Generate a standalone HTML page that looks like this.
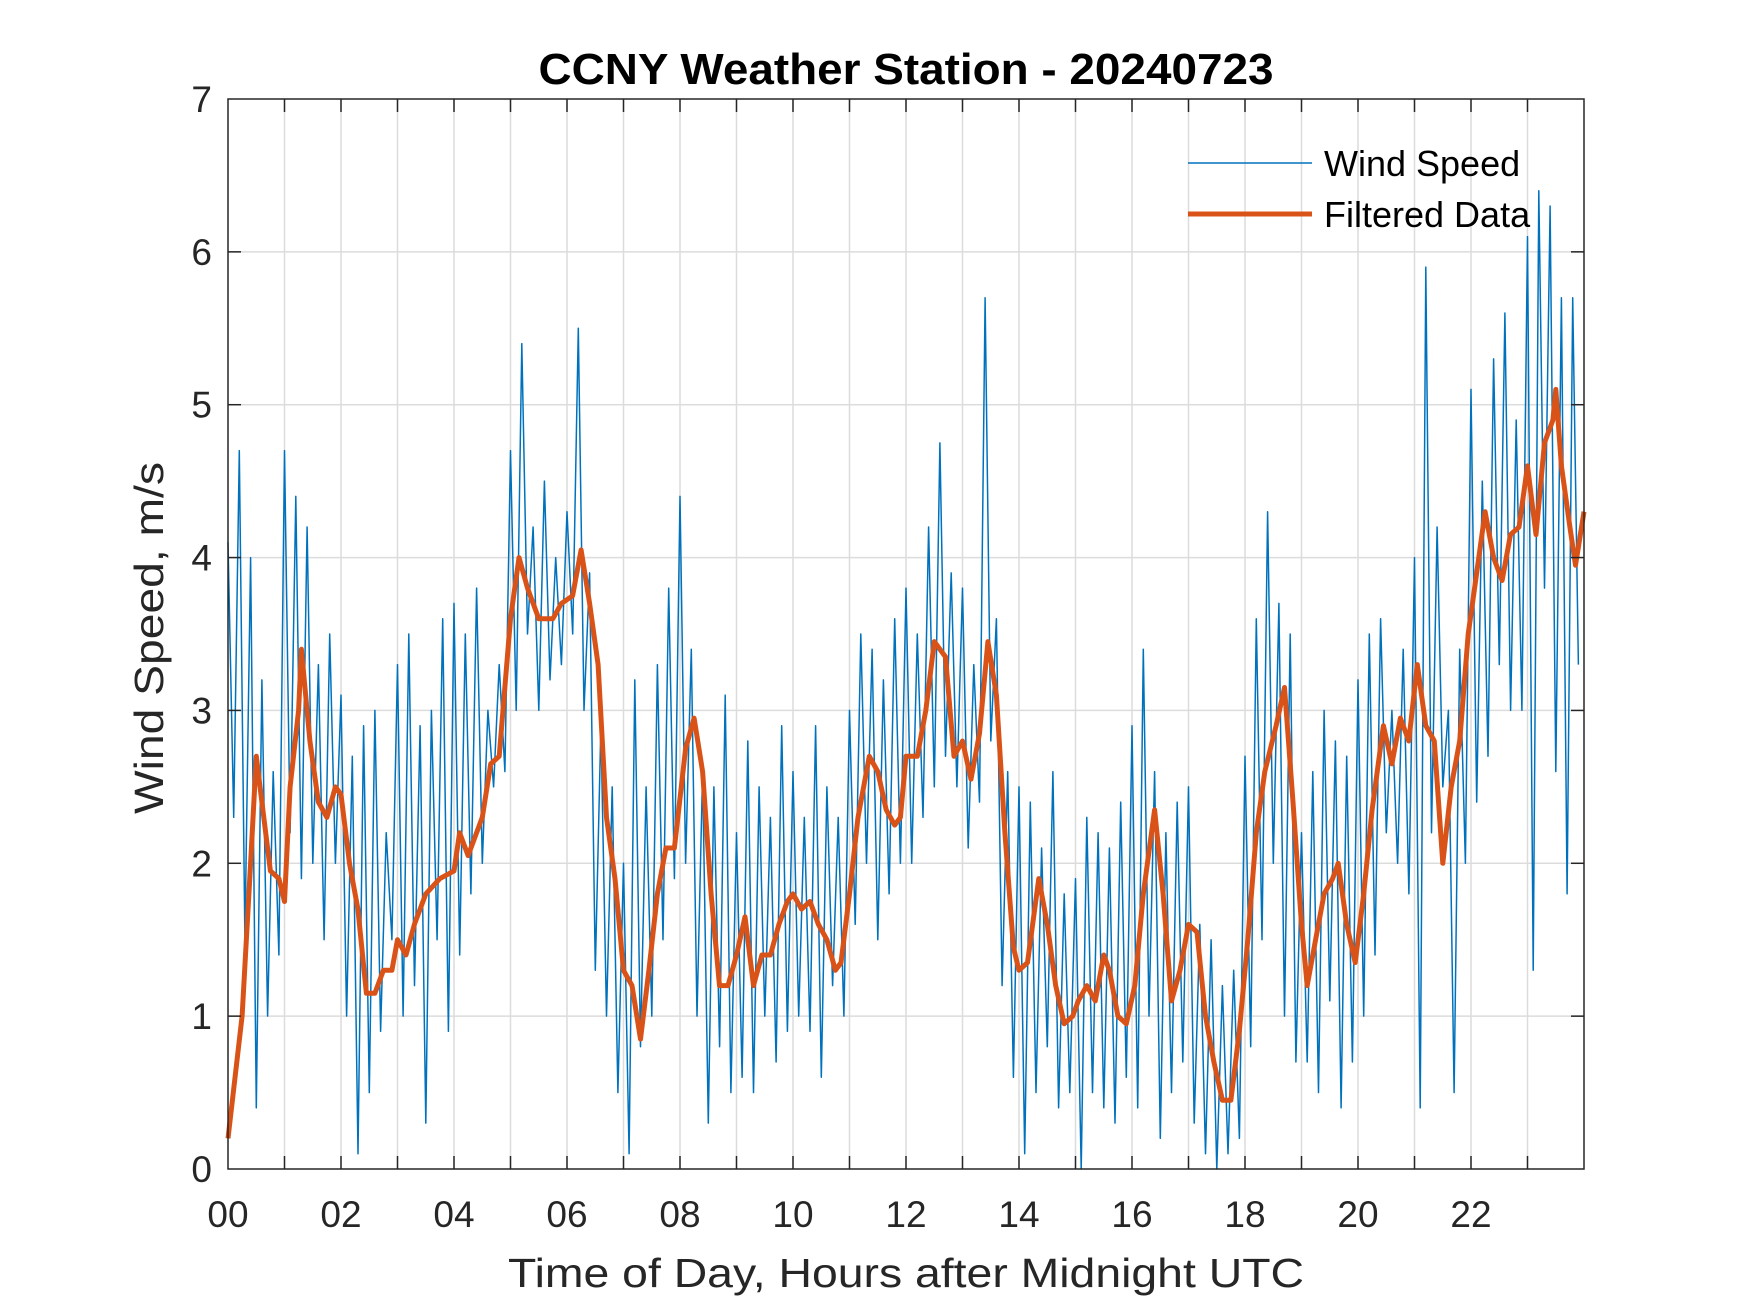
<!DOCTYPE html>
<html><head><meta charset="utf-8"><style>
html,body{margin:0;padding:0;background:#fff;}
svg{display:block;font-family:"Liberation Sans",Arial,sans-serif;}
</style></head><body>
<svg id="chart" width="1750" height="1313" viewBox="0 0 1750 1313" xmlns="http://www.w3.org/2000/svg">
<rect x="0" y="0" width="1750" height="1313" fill="#fff"/>
<g id="grid"></g>
<g id="series"></g>
<rect x="228" y="99" width="1356" height="1070" fill="none" stroke="#262626" stroke-width="1.5"/>
<g id="ticks"></g>
<text x="906" y="84" text-anchor="middle" font-weight="bold" font-size="44" fill="#000" textLength="735" lengthAdjust="spacingAndGlyphs">CCNY Weather Station - 20240723</text>
<text x="906" y="1287" text-anchor="middle" font-size="41" fill="#262626" textLength="796" lengthAdjust="spacingAndGlyphs">Time of Day, Hours after Midnight UTC</text>
<text transform="translate(163,638) rotate(-90)" text-anchor="middle" font-size="41" fill="#262626" textLength="352" lengthAdjust="spacingAndGlyphs">Wind Speed, m/s</text>
<g>
<line x1="1188" y1="163" x2="1312" y2="163" stroke="#0072BD" stroke-width="1.5"/>
<text x="1324" y="176" font-size="36" fill="#000">Wind Speed</text>
<line x1="1188" y1="214" x2="1312" y2="214" stroke="#D95319" stroke-width="5"/>
<text x="1324" y="227" font-size="36" fill="#000">Filtered Data</text>
</g>
</svg>
<script>
const windSpeed = [
4.1,2.3,4.7,1.5,4.0,0.4,3.2,1.0,2.6,1.4,
4.7,2.2,4.4,1.9,4.2,2.0,3.3,1.5,3.5,2.0,
3.1,1.0,2.7,0.1,2.9,0.5,3.0,0.9,2.2,1.5,
3.3,1.0,3.5,1.2,2.9,0.3,3.0,1.5,3.6,0.9,
3.7,1.4,3.5,1.8,3.8,2.0,3.0,2.5,3.3,2.6,
4.7,3.0,5.4,3.5,4.2,3.0,4.5,3.2,4.0,3.3,
4.3,3.5,5.5,3.0,3.9,1.3,2.9,1.0,2.5,0.5,
2.0,0.1,3.2,0.8,2.5,1.0,3.3,1.5,3.8,1.9,
4.4,2.0,3.4,1.0,2.6,0.3,2.5,0.8,3.1,0.5,
2.2,0.6,2.8,0.5,2.5,1.0,2.3,0.7,2.9,0.9,
2.6,1.0,2.3,0.9,2.9,0.6,2.5,1.2,2.3,1.0,
3.0,1.6,3.5,2.0,3.4,1.5,3.2,1.8,3.6,2.0,
3.8,2.0,3.5,2.3,4.2,2.5,4.75,2.7,3.9,2.5,
3.8,2.1,3.3,2.4,5.7,2.8,3.6,1.2,2.6,0.6,
2.5,0.1,2.4,0.5,2.1,0.8,2.6,0.4,1.8,0.5,
1.9,0.0,2.3,0.5,2.2,0.4,2.1,0.3,2.4,0.6,
2.9,0.4,3.4,1.0,2.6,0.2,2.2,0.5,2.4,0.7,
2.5,0.3,1.6,0.1,1.5,0.0,1.2,0.1,1.3,0.2,
2.7,0.8,3.6,1.5,4.3,2.0,3.7,1.0,3.5,0.7,
2.2,0.7,2.6,0.5,3.0,1.1,2.8,0.4,2.7,0.7,
3.2,1.0,3.5,1.4,3.6,2.2,3.0,2.0,3.4,1.8,
4.0,0.4,5.9,2.2,4.2,2.5,3.0,0.5,3.4,2.0,
5.1,2.4,4.5,2.7,5.3,3.3,5.6,3.0,4.9,3.0,
6.1,1.3,6.4,3.8,6.3,2.6,5.7,1.8,5.7,3.3
];
const filtHours = [0,0.25,0.4,0.5,0.6,0.75,0.9,1.0,1.1,1.25,1.3,1.45,1.6,1.75,1.9,2.0,2.15,2.3,2.45,2.6,2.75,2.9,3.0,3.15,3.3,3.5,3.75,4.0,4.1,4.25,4.5,4.65,4.8,5.0,5.15,5.3,5.5,5.75,5.9,6.1,6.25,6.4,6.55,6.7,6.85,7.0,7.15,7.3,7.45,7.6,7.75,7.9,8.1,8.25,8.4,8.55,8.7,8.85,9.0,9.15,9.3,9.45,9.6,9.75,9.9,10.0,10.15,10.3,10.45,10.6,10.75,10.85,11.0,11.15,11.35,11.5,11.65,11.8,11.9,12.0,12.2,12.35,12.5,12.7,12.85,13.0,13.15,13.3,13.45,13.6,13.75,13.9,14.0,14.15,14.35,14.5,14.65,14.8,14.95,15.05,15.2,15.35,15.5,15.6,15.75,15.9,16.05,16.2,16.4,16.55,16.7,16.85,17.0,17.15,17.3,17.45,17.6,17.75,17.9,18.05,18.2,18.35,18.55,18.7,18.85,19.0,19.1,19.25,19.4,19.55,19.65,19.8,19.95,20.1,20.25,20.45,20.6,20.75,20.9,21.05,21.2,21.35,21.5,21.65,21.8,21.95,22.1,22.25,22.4,22.55,22.7,22.85,23.0,23.15,23.3,23.45,23.5,23.6,23.75,23.85,24.0];
const filtValues = [0.2,1.0,2.0,2.7,2.4,1.95,1.9,1.75,2.5,3.0,3.4,2.8,2.4,2.3,2.5,2.45,2.0,1.7,1.15,1.15,1.3,1.3,1.5,1.4,1.6,1.8,1.9,1.95,2.2,2.05,2.3,2.65,2.7,3.6,4.0,3.8,3.6,3.6,3.7,3.75,4.05,3.7,3.3,2.3,1.9,1.3,1.2,0.85,1.3,1.8,2.1,2.1,2.75,2.95,2.6,1.8,1.2,1.2,1.4,1.65,1.2,1.4,1.4,1.6,1.75,1.8,1.7,1.75,1.6,1.5,1.3,1.35,1.8,2.3,2.7,2.6,2.35,2.25,2.3,2.7,2.7,3.0,3.45,3.35,2.7,2.8,2.55,2.85,3.45,3.1,2.2,1.45,1.3,1.35,1.9,1.6,1.2,0.95,1.0,1.1,1.2,1.1,1.4,1.3,1.0,0.95,1.2,1.8,2.35,1.8,1.1,1.3,1.6,1.55,1.0,0.7,0.45,0.45,0.9,1.5,2.2,2.6,2.9,3.15,2.4,1.6,1.2,1.5,1.8,1.9,2.0,1.6,1.35,1.8,2.35,2.9,2.65,2.95,2.8,3.3,2.9,2.8,2.0,2.5,2.8,3.5,3.9,4.3,4.0,3.85,4.15,4.2,4.6,4.15,4.75,4.9,5.1,4.6,4.2,3.95,4.3];
const yTicks = [0,1,2,3,4,5,6,7];
const xTickLabels = ["00","02","04","06","08","10","12","14","16","18","20","22"];

const NS = "http://www.w3.org/2000/svg";
const L = 228, R = 1584, T = 99, B = 1169;
const X = h => L + (h / 24) * (R - L);
const Y = v => B - (v / 7) * (B - T);
function mk(tag, attrs, parent) {
  const e = document.createElementNS(NS, tag);
  for (const k in attrs) e.setAttribute(k, attrs[k]);
  parent.appendChild(e);
  return e;
}
const grid = document.getElementById('grid');
const ticks = document.getElementById('ticks');
const series = document.getElementById('series');

for (let h = 1; h < 24; h++) {
  const g = mk('line', {x1: X(h), x2: X(h), y1: T, y2: B, stroke: '#dcdcdc', 'stroke-width': 1.5}, grid);
  
  
  const t1 = mk('line', {x1: X(h), x2: X(h), y1: B, y2: B - 13, stroke: '#262626', 'stroke-width': 1.5}, ticks);
  
  
  const t2 = mk('line', {x1: X(h), x2: X(h), y1: T, y2: T + 13, stroke: '#262626', 'stroke-width': 1.5}, ticks);
  
  
}
xTickLabels.forEach((lab, i) => {
  const t = mk('text', {x: X(i * 2), y: 1227, 'text-anchor': 'middle', 'font-size': 37, fill: '#262626'}, ticks);
  t.textContent = lab;
  
  
});
yTicks.forEach(v => {
  if (v > 0 && v < 7) {
    const g = mk('line', {x1: L, x2: R, y1: Y(v), y2: Y(v), stroke: '#dcdcdc', 'stroke-width': 1.5}, grid);
    
    
    const t1 = mk('line', {x1: L, x2: L + 13, y1: Y(v), y2: Y(v), stroke: '#262626', 'stroke-width': 1.5}, ticks);
    
    
    const t2 = mk('line', {x1: R, x2: R - 13, y1: Y(v), y2: Y(v), stroke: '#262626', 'stroke-width': 1.5}, ticks);
    
    
  }
  const t = mk('text', {x: 212, y: Y(v) + 13, 'text-anchor': 'end', 'font-size': 37, fill: '#262626'}, ticks);
  t.textContent = String(v);
  
  
});

const step = 24 / windSpeed.length;
const bluePts = windSpeed.map((v, i) => X(i * step).toFixed(1) + ',' + Y(v).toFixed(1)).join(' ');
const blue = mk('polyline', {points: bluePts, fill: 'none', stroke: '#0072BD', 'stroke-width': 1.5, 'stroke-linejoin': 'round'}, series);



const orangePts = filtValues.map((v, i) => X(filtHours[i]).toFixed(1) + ',' + Y(v).toFixed(1)).join(' ');
const orange = mk('polyline', {points: orangePts, fill: 'none', stroke: '#D95319', 'stroke-width': 5, 'stroke-linejoin': 'round'}, series);


</script>
</body></html>
